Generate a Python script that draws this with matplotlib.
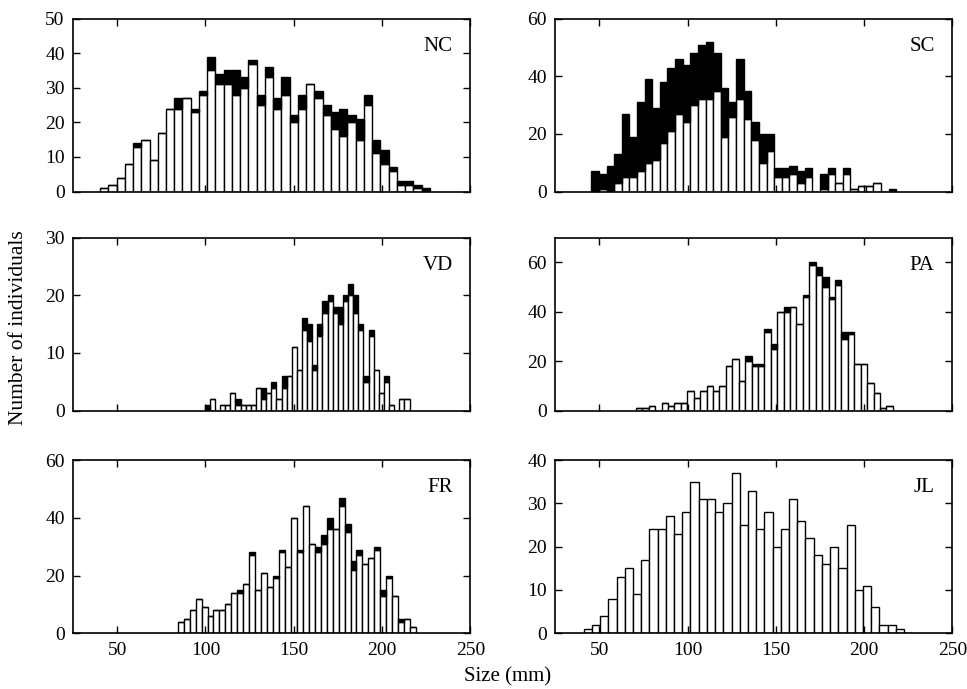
import matplotlib
matplotlib.use('Agg')
import matplotlib.pyplot as plt
import numpy as np

plt.rcParams['font.family'] = ['Liberation Serif', 'DejaVu Serif']

# 40 size classes per site, spanning min..max size (mm)
nc_range = (40.3, 227.0)
nc_white = [1, 2, 4, 8, 13, 15, 9, 17, 24, 24, 27, 23, 28, 35, 31, 31, 28, 30, 37, 25,
            33, 24, 28, 20, 24, 31, 27, 22, 18, 16, 20, 15, 25, 11, 8, 6, 2, 2, 1, 0]
nc_black = [0, 0, 0, 0, 1, 0, 0, 0, 0, 3, 0, 1, 1, 4, 3, 4, 7, 3, 1, 3,
            3, 3, 5, 2, 4, 0, 2, 3, 5, 8, 2, 6, 3, 4, 4, 1, 1, 1, 1, 1]

sc_range = (45.5, 218.1)
sc_white = [0, 1, 0, 3, 5, 5, 7, 10, 11, 17, 21, 27, 24, 30, 32, 32, 35, 19, 26, 32,
            25, 18, 10, 14, 5, 5, 6, 3, 5, 0, 1, 6, 3, 6, 1, 2, 2, 3, 0, 0]
sc_black = [7, 5, 9, 10, 22, 14, 24, 29, 18, 21, 22, 19, 20, 18, 19, 20, 13, 17, 5, 14,
            10, 6, 10, 6, 3, 3, 3, 4, 3, 0, 5, 2, 0, 2, 0, 0, 0, 0, 0, 1]

vd_range = (99.6, 215.5)
vd_white = [0, 2, 0, 1, 1, 3, 1, 1, 1, 1, 4, 2, 3, 4, 2, 4, 6, 11, 7, 14,
            12, 7, 13, 17, 19, 17, 15, 19, 20, 17, 14, 5, 13, 7, 3, 5, 1, 0, 2, 2]
vd_black = [1, 0, 0, 0, 0, 0, 1, 0, 0, 0, 0, 2, 0, 1, 0, 2, 0, 0, 0, 2,
            3, 1, 2, 2, 1, 1, 3, 1, 2, 3, 1, 1, 1, 0, 0, 1, 0, 0, 0, 0]

pa_range = (70.8, 216.2)
pa_white = [1, 1, 2, 0, 3, 2, 3, 3, 8, 5, 8, 10, 8, 10, 18, 21, 12, 20, 18, 18,
            32, 25, 40, 40, 42, 35, 46, 59, 55, 50, 45, 51, 29, 31, 19, 19, 11, 7, 1, 2]
pa_black = [0, 0, 0, 0, 0, 0, 0, 0, 0, 0, 0, 0, 0, 0, 0, 0, 0, 2, 1, 1,
            1, 2, 0, 2, 0, 0, 1, 1, 3, 4, 1, 2, 3, 1, 0, 0, 0, 0, 0, 0]

fr_range = (84.3, 219.2)
fr_white = [4, 5, 8, 12, 9, 6, 8, 8, 10, 14, 14, 17, 27, 15, 21, 16, 19, 28, 23, 40,
            28, 44, 31, 28, 31, 36, 36, 44, 35, 22, 27, 24, 26, 29, 13, 19, 13, 4, 5, 2]
fr_black = [0, 0, 0, 0, 0, 0, 0, 0, 0, 0, 1, 0, 1, 0, 0, 0, 1, 1, 0, 0,
            1, 0, 0, 2, 3, 4, 0, 3, 3, 3, 2, 0, 0, 1, 2, 1, 0, 1, 0, 0]

jl_range = (41.2, 227.2)
jl_white = [1, 2, 4, 8, 13, 15, 9, 17, 24, 24, 27, 23, 28, 35, 31, 31, 28, 30, 37, 25,
            33, 24, 28, 20, 24, 31, 26, 22, 18, 16, 20, 15, 25, 10, 11, 6, 2, 2, 1, 0]

panels = [
    ('NC', nc_range, nc_white, nc_black, (0, 50), [0, 10, 20, 30, 40, 50]),
    ('SC', sc_range, sc_white, sc_black, (0, 60), [0, 20, 40, 60]),
    ('VD', vd_range, vd_white, vd_black, (0, 30), [0, 10, 20, 30]),
    ('PA', pa_range, pa_white, pa_black, (0, 70), [0, 20, 40, 60]),
    ('FR', fr_range, fr_white, fr_black, (0, 60), [0, 20, 40, 60]),
    ('JL', jl_range, jl_white, None, (0, 40), [0, 10, 20, 30, 40]),
]

fig = plt.figure(figsize=(9.67, 6.89), dpi=100)

lefts = [0.0755, 0.574]
bottoms = [0.722, 0.404, 0.081]
w, h = 0.411, 0.251

for i, (name, rng, white, black, ylim, yticks) in enumerate(panels):
    row, col = i // 2, i % 2
    ax = fig.add_axes([lefts[col], bottoms[row], w, h])
    n = len(white)
    bw = (rng[1] - rng[0]) / n
    x = rng[0] + bw * np.arange(n)
    ax.bar(x, white, width=bw, align='edge', color='white',
           edgecolor='black', linewidth=1.0)
    if black is not None:
        ax.bar(x, black, width=bw, bottom=white, align='edge', color='black',
               edgecolor='black', linewidth=1.0)
    ax.set_xlim(25, 250)
    ax.set_ylim(*ylim)
    ax.set_xticks([50, 100, 150, 200, 250])
    ax.set_yticks(yticks)
    ax.tick_params(direction='in', top=True, right=True, length=5, width=1,
                   labelsize=14, pad=6)
    if row < 2:
        ax.tick_params(labelbottom=False)
    for s in ax.spines.values():
        s.set_linewidth(1.2)
    ax.text(0.955, 0.84, name, transform=ax.transAxes, ha='right', va='center',
            fontsize=15)

fig.text(0.019, 0.524, 'Number of individuals', rotation=90, ha='center',
         va='center', fontsize=15.5)
fig.text(0.525, 0.018, 'Size (mm)', ha='center', va='center', fontsize=15)

plt.savefig('out.png', dpi=100)
